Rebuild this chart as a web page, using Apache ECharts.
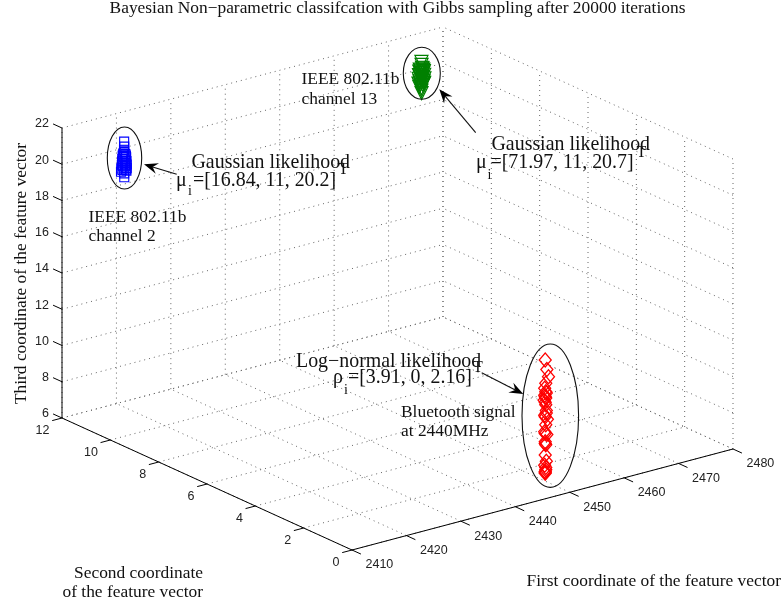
<!DOCTYPE html>
<html><head><meta charset="utf-8">
<style>html,body{margin:0;padding:0;background:#fff}#c{width:783px;height:605px}</style>
<script src="https://cdn.jsdelivr.net/npm/echarts@6/dist/echarts.min.js"></script>
</head><body><div id="c"></div>
<script>
// ---------- tick labels ----------
const firstTicks = [2410,2420,2430,2440,2450,2460,2470,2480];
const secondTicks = [0,2,4,6,8,10,12];
const thirdTicks = [6,8,10,12,14,16,18,20,22];

// ---------- IEEE 802.11b channel 2 (squares) ----------
const blueFirst = [2416.98,2417.0,2416.95,2417.0,2416.8,2417.2,2416.7,2417.3,2416.85,2417.35,2416.65,2417.1,2416.6,2417.4,2416.9,2417.25,2416.55,2417.45,2416.75,2417.15,2416.45,2417.45,2416.65,2417.3,2416.4,2417.4,2416.98,2417.0];
const blueSecond = [11,11,11,11,11,11,11,11,11,11,11,11,11,11,11,11,11,11,11,11,11,11,11,11,11,11,11,11];
const blueThird = [21.3,21.02,20.85,20.72,20.66,20.6,20.55,20.5,20.46,20.4,20.36,20.3,20.25,20.2,20.15,20.1,20.06,20.0,19.95,19.92,19.86,19.8,19.76,19.72,19.68,19.66,19.55,19.33];

// ---------- IEEE 802.11b channel 13 (triangles) ----------
const greenFirst = [2471.6,2471.62,2471.7,2471.3,2471.95,2471.2,2472.05,2471.4,2471.85,2471.15,2472.1,2471.35,2471.9,2471.1,2472.15,2471.6,2471.25,2472.0,2471.05,2472.1,2471.4,2471.85,2471.2,2472.0,2471.35,2471.75,2471.5,2471.75,2471.25,2471.95,2471.45,2471.8,2471.6,2471.6,2471.62];
const greenSecond = [11,11,11,11,11,11,11,11,11,11,11,11,11,11,11,11,11,11,11,11,11,11,11,11,11,11,11,11,11,11,11,11,11,11,11];
const greenThird = [21.35,21.18,21.02,20.95,20.9,20.85,20.8,20.76,20.7,20.66,20.6,20.56,20.5,20.46,20.4,20.36,20.3,20.25,20.2,20.15,20.1,20.05,20.0,20.12,20.22,20.33,20.43,20.53,20.63,20.74,20.88,20.98,19.9,19.77,19.63];

// ---------- Bluetooth signal (diamonds) ----------
const redFirst = [2445.5,2445.8,2446.1,2445.6,2445.4,2445.7,2445.5,2445.3,2445.6,2445.7,2445.5,2445.9,2445.6,2445.4,2445.8,2445.5,2445.6,2445.5,2445.7,2445.4,2445.6,2445.5,2445.5,2445.6,2445.4,2445.5,2445.6,2445.4,2445.5,2445.7,2445.5,2445.6,2445.5];
const redSecond = [0,0,0,0,0,0,0,0,0,0,0,0,0,0,0,0,0,0,0,0,0,0,0,0,0,0,0,0,0,0,0,0,0];
const redThird = [13.66,13.11,12.68,12.37,12.1,11.82,11.63,11.45,11.18,10.72,10.53,10.35,10.07,9.7,9.52,9.15,8.97,8.42,8.05,7.86,7.59,7.5,7.41,11.55,10.62,9.6,11.9,11.72,11.32,10.85,9.05,7.72,7.46];

// ---------- projection of the 3-D box to the page ----------
const box = {ox:352, oy:550, xx:381/70, xy:-101/70, yx:-290/12, yy:-132/12, zy:-290/16};
function project(a,b,c){
  const dx=a-firstTicks[0], dy=b-secondTicks[0], dz=c-thirdTicks[0];
  return [box.ox+dx*box.xx+dy*box.yx, box.oy+dx*box.xy+dy*box.yy+dz*box.zy];
}
const X0=firstTicks[0], X1=firstTicks[firstTicks.length-1];
const Y0=secondTicks[0], Y1=secondTicks[secondTicks.length-1];
const Z0=thirdTicks[0], Z1=thirdTicks[thirdTicks.length-1];

const gridSegs=[], axisSegs=[], labels=[];
firstTicks.forEach(v=>{
  gridSegs.push([[v,Y1,Z0],[v,Y1,Z1]]);
  gridSegs.push([[v,Y0,Z0],[v,Y1,Z0]]);
  axisSegs.push([[v,Y0,Z0],[v,Y0-0.37,Z0]]);
  const p=project(v,Y0,Z0);
  labels.push({p:[p[0]+13.5,p[1]+15],t:String(v),a:'left'});
});
secondTicks.forEach(v=>{
  gridSegs.push([[X1,v,Z0],[X1,v,Z1]]);
  gridSegs.push([[X0,v,Z0],[X1,v,Z0]]);
  axisSegs.push([[X0,v,Z0],[X0-1.8,v,Z0]]);
  const p=project(X0,v,Z0);
  labels.push({p:[p[0]-12.5,p[1]+12.5],t:String(v),a:'right'});
});
thirdTicks.forEach(v=>{
  gridSegs.push([[X0,Y1,v],[X1,Y1,v]]);
  gridSegs.push([[X1,Y0,v],[X1,Y1,v]]);
  axisSegs.push([[X0,Y1,v],[X0,Y1+0.37,v]]);
  const p=project(X0,Y1,v);
  labels.push({p:[p[0]-13,p[1]-4],t:String(v),a:'right'});
});
axisSegs.push([[X0,Y0,Z0],[X1,Y0,Z0]]);
axisSegs.push([[X0,Y0,Z0],[X0,Y1,Z0]]);
axisSegs.push([[X0,Y1,Z0],[X0,Y1,Z1]]);

const pts=(a,b,c)=>a.map((v,i)=>project(v,b[i],c[i]));

function segSeries(name,segs,style){
  return {type:'custom',name,coordinateSystem:'cartesian2d',silent:true,z:1,clip:false,
    data:segs.map((s,i)=>[i]),
    renderItem(params,api){
      const s=segs[params.dataIndex];
      const a=api.coord(project(...s[0])), b=api.coord(project(...s[1]));
      return {type:'line',shape:{x1:a[0],y1:a[1],x2:b[0],y2:b[1]},style};
    }};
}
function labelSeries(){
  return {type:'custom',name:'ticklabels',coordinateSystem:'cartesian2d',silent:true,z:3,clip:false,
    data:labels.map((s,i)=>[i]),
    renderItem(params,api){
      const l=labels[params.dataIndex], c=api.coord(l.p);
      return {type:'text',style:{x:c[0],y:c[1],text:l.t,align:l.a,verticalAlign:'middle',
        fontFamily:'Liberation Sans',fontSize:12.5,fill:'#222'}};
    }};
}
function scatter(name,data,symbol,size,color,rot,bw){
  return {type:'scatter',name,data,symbol,symbolSize:size,symbolRotate:rot||0,z:2,silent:true,clip:false,
    itemStyle:{color:'rgba(0,0,0,0)',borderColor:color,borderWidth:bw||1,opacity:1}};
}

// ---------- annotations (page furniture) ----------
const SERIF='Liberation Serif';
const T=(x,y,text,size,extra)=>Object.assign({type:'text',x,y,z:10,silent:true,
  style:Object.assign({text,fontFamily:SERIF,fontSize:size,fill:'#111',align:'left',verticalAlign:'middle'},extra&&extra.style||{})},extra&&extra.el||{});
const ell=(cx,cy,rx,ry)=>({type:'ellipse',z:9,silent:true,shape:{cx,cy,rx,ry},style:{fill:'none',stroke:'#111',lineWidth:1.1}});
function arrow(tx,ty,hx,hy){
  const L=Math.hypot(hx-tx,hy-ty), ux=(hx-tx)/L, uy=(hy-ty)/L, nx=-uy, ny=ux;
  const len=14, w=5.5, notch=9;
  const bx=hx-ux*len, by=hy-uy*len, mx=hx-ux*notch, my=hy-uy*notch;
  return [
    {type:'line',z:9,silent:true,shape:{x1:tx,y1:ty,x2:mx,y2:my},style:{stroke:'#111',lineWidth:1.1}},
    {type:'polygon',z:9,silent:true,shape:{points:[[hx,hy],[bx+nx*w,by+ny*w],[mx,my],[bx-nx*w,by-ny*w]]},style:{fill:'#000'}}
  ];
}
const big=19.9, sub=14, small=17.4;
const elements=[
  T(397.5,8.5,'Bayesian Non\u2212parametric classifcation with Gibbs sampling after 20000 iterations',small,{style:{align:'center'}}),
  T(21,273.5,'Third coordinate of the feature vector',small,{style:{align:'center'},el:{rotation:Math.PI/2}}),
  T(203,573,'Second coordinate',small,{style:{align:'right'}}),
  T(203,592.5,'of the feature vector',small,{style:{align:'right'}}),
  T(781,581,'First coordinate of the feature vector',small,{style:{align:'right'}}),
  T(301.5,79,'IEEE 802.11b',small),T(301.5,99,'channel 13',small),
  T(88.5,217,'IEEE 802.11b',small),T(88.5,236.5,'channel 2',small),
  T(401,412,'Bluetooth signal',small),T(401,431.5,'at 2440MHz',small),
  T(191.5,163,'Gaussian likelihood',big),
  T(176,181,'\u03bc',big),T(188,191.5,'i',sub),T(193,181,'=[16.84, 11, 20.2]',big),T(338.5,170,'T',sub+2),
  T(491.5,145,'Gaussian likelihood',big),
  T(476,163,'\u03bc',big),T(487.5,175,'i',sub),T(490.5,163,'=[71.97, 11, 20.7]',big),T(636.5,153,'T',sub+2),
  T(296,361.5,'Log\u2212normal likelihood',big),
  T(333,378,'\u03c1',big),T(344,390,'i',sub),T(348,378,'=[3.91, 0, 2.16]',big),T(473,368,'T',sub+2),
  ell(124.5,158,17.2,31),ell(421.8,73.3,18.5,26),ell(550.3,415.7,28.3,71.7),
  ...arrow(176.7,174.3,144,164.3),
  ...arrow(475.7,132.7,439.3,89.3),
  ...arrow(481.7,372.7,523.3,394)
];

const chart=echarts.init(document.getElementById('c'),null,{renderer:'canvas',width:783,height:605});
chart.setOption({
  animation:false,backgroundColor:'#fff',
  grid:{left:0,right:0,top:0,bottom:0},
  xAxis:{type:'value',min:0,max:783,show:false},
  yAxis:{type:'value',min:0,max:605,inverse:true,show:false},
  series:[
    segSeries('grid',gridSegs,{stroke:'#666',lineWidth:1,lineDash:[1,4],fill:'none'}),
    segSeries('axes',axisSegs,{stroke:'#000',lineWidth:1,fill:'none'}),
    scatter('IEEE 802.11b channel 2',pts(blueFirst,blueSecond,blueThird),'rect',9,'#0000ff',0,1.1),
    scatter('IEEE 802.11b channel 13',pts(greenFirst,greenSecond,greenThird),'triangle',13,'#008000',180,1.2),
    scatter('Bluetooth signal',pts(redFirst,redSecond,redThird),'diamond',[12,14],'#ff0000',0,1.3),
    labelSeries()
  ],
  graphic:{elements}
});
</script></body></html>
